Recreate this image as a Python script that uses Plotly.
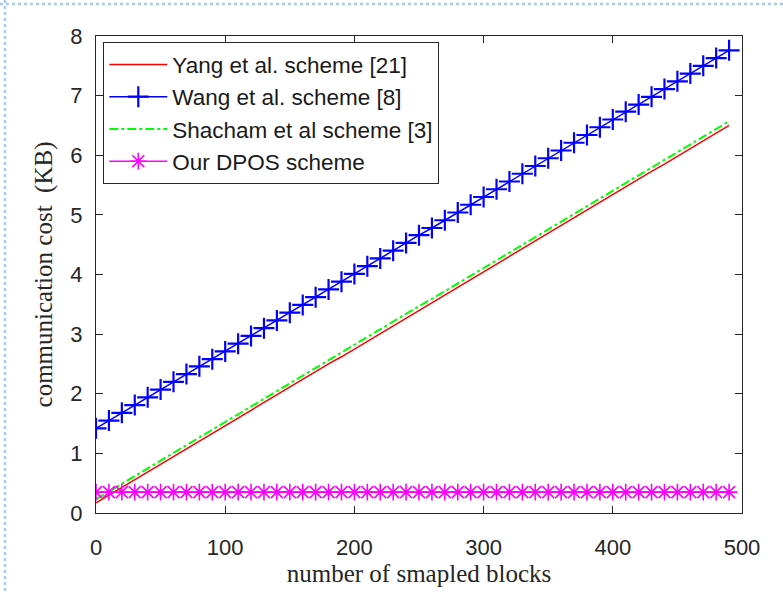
import plotly.graph_objects as go

blocks = [0, 10, 20, 30, 40, 50, 60, 70, 80, 90,
          100, 110, 120, 130, 140, 150, 160, 170, 180, 190,
          200, 210, 220, 230, 240, 250, 260, 270, 280, 290,
          300, 310, 320, 330, 340, 350, 360, 370, 380, 390,
          400, 410, 420, 430, 440, 450, 460, 470, 480, 490]

yang = [0.17, 0.30, 0.43, 0.56, 0.69, 0.82, 0.95, 1.07, 1.20, 1.33,
        1.46, 1.59, 1.72, 1.85, 1.98, 2.11, 2.24, 2.37, 2.50, 2.62,
        2.75, 2.88, 3.01, 3.14, 3.27, 3.40, 3.53, 3.66, 3.79, 3.92,
        4.05, 4.18, 4.30, 4.43, 4.56, 4.69, 4.82, 4.95, 5.08, 5.21,
        5.34, 5.47, 5.60, 5.73, 5.85, 5.98, 6.11, 6.24, 6.37, 6.50]

wang = [1.42, 1.55, 1.68, 1.81, 1.94, 2.07, 2.20, 2.33, 2.46, 2.58,
        2.71, 2.84, 2.97, 3.10, 3.23, 3.36, 3.49, 3.62, 3.75, 3.88,
        4.01, 4.14, 4.27, 4.40, 4.53, 4.66, 4.78, 4.91, 5.04, 5.17,
        5.30, 5.43, 5.56, 5.69, 5.82, 5.95, 6.08, 6.21, 6.34, 6.47,
        6.60, 6.73, 6.85, 6.98, 7.11, 7.24, 7.37, 7.50, 7.63, 7.76]

shacham = [0.23, 0.36, 0.49, 0.62, 0.75, 0.88, 1.01, 1.14, 1.27, 1.39,
           1.52, 1.65, 1.78, 1.91, 2.04, 2.17, 2.30, 2.43, 2.56, 2.69,
           2.82, 2.95, 3.08, 3.21, 3.34, 3.47, 3.59, 3.72, 3.85, 3.98,
           4.11, 4.24, 4.37, 4.50, 4.63, 4.76, 4.89, 5.02, 5.15, 5.28,
           5.41, 5.54, 5.66, 5.79, 5.92, 6.05, 6.18, 6.31, 6.44, 6.57]

dpos = [0.35, 0.35, 0.35, 0.35, 0.35, 0.35, 0.35, 0.35, 0.35, 0.35,
        0.35, 0.35, 0.35, 0.35, 0.35, 0.35, 0.35, 0.35, 0.35, 0.35,
        0.35, 0.35, 0.35, 0.35, 0.35, 0.35, 0.35, 0.35, 0.35, 0.35,
        0.35, 0.35, 0.35, 0.35, 0.35, 0.35, 0.35, 0.35, 0.35, 0.35,
        0.35, 0.35, 0.35, 0.35, 0.35, 0.35, 0.35, 0.35, 0.35, 0.35]

names = ["Yang et al. scheme [21]", "Wang et al. scheme [8]",
         "Shacham et al scheme [3]", "Our DPOS scheme"]
x_ticks = [0, 100, 200, 300, 400, 500]
y_ticks = [0, 1, 2, 3, 4, 5, 6, 7, 8]

W, H = 783, 592
ML, MR, MT, MB = 96, 41, 36, 79
PW, PH = W - ML - MR, H - MT - MB
AX = "#262626"

fig = go.Figure()
fig.add_trace(go.Scatter(x=blocks, y=yang, name=names[0], mode="lines",
                         line=dict(color="#ff0000", width=1.5)))
fig.add_trace(go.Scatter(x=blocks, y=wang, name=names[1], mode="lines+markers",
                         line=dict(color="#0000ff", width=1.5),
                         marker=dict(symbol="cross-thin", size=15,
                                     line=dict(color="#0000ff", width=2.2))))
fig.add_trace(go.Scatter(x=blocks, y=shacham, name=names[2], mode="lines",
                         line=dict(color="#00ff00", width=2, dash="dashdot")))
fig.add_trace(go.Scatter(x=blocks, y=dpos, name=names[3], mode="lines+markers",
                         line=dict(color="#ff00ff", width=1.5),
                         marker=dict(symbol="asterisk", size=14,
                                     line=dict(color="#ff00ff", width=1.6))))

def px_x(p):
    return (p - ML) / PW

def px_y(p):
    return (H - MB - p) / PH

dot = dict(color="#a9c9ee", width=2.5, dash="dot")
fig.add_shape(type="line", xref="paper", yref="paper",
              x0=px_x(0), x1=px_x(W), y0=px_y(4), y1=px_y(4), line=dot)
fig.add_shape(type="line", xref="paper", yref="paper",
              x0=px_x(5), x1=px_x(5), y0=px_y(0), y1=px_y(H), line=dot)

tick_font = dict(family="Liberation Sans, Arial", size=22, color=AX)
title_font = dict(family="Liberation Serif, Times New Roman, serif", size=25, color=AX)

fig.update_xaxes(range=[0, 500], tickvals=x_ticks, ticks="inside", ticklen=7,
                 tickcolor=AX, tickwidth=1.3, showline=True, linecolor=AX,
                 linewidth=1.3, mirror="allticks", showgrid=False, zeroline=False,
                 tickfont=tick_font, ticklabelstandoff=14,
                 title=dict(text="number of smapled blocks", font=title_font, standoff=4))
fig.update_yaxes(range=[0, 8], tickvals=y_ticks, ticks="inside", ticklen=7,
                 tickcolor=AX, tickwidth=1.3, showline=True, linecolor=AX,
                 linewidth=1.3, mirror="allticks", showgrid=False, zeroline=False,
                 tickfont=tick_font, ticklabelstandoff=8,
                 title=dict(text="communication cost&nbsp;&nbsp;(KB)", font=title_font, standoff=10))

fig.update_layout(
    width=W, height=H,
    margin=dict(l=ML, r=MR, t=MT, b=MB, pad=0),
    paper_bgcolor="white", plot_bgcolor="white",
    showlegend=True,
    legend=dict(x=px_x(103), y=px_y(42), xanchor="left", yanchor="top",
                bgcolor="white", bordercolor=AX, borderwidth=1.3,
                font=dict(family="Liberation Sans, Arial", size=22.5, color="#1a1a1a"),
                tracegroupgap=0, itemwidth=58),
)

fig.write_html("out.html")
